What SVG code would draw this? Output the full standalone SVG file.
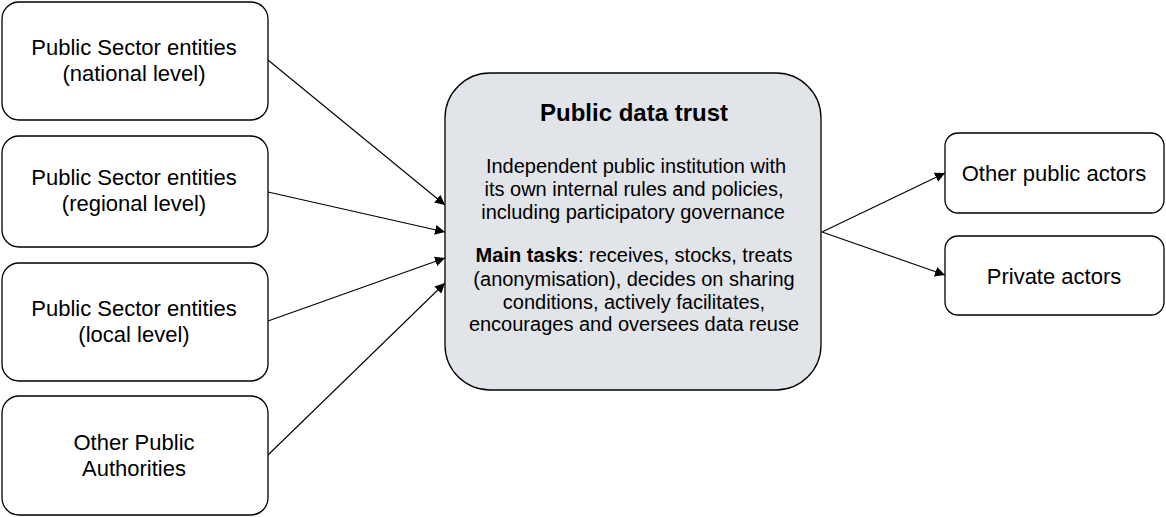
<svg xmlns="http://www.w3.org/2000/svg" width="1166" height="517" viewBox="0 0 1166 517">
<style>
.box{fill:#fff;stroke:#000;stroke-width:1.3}
.center{fill:#e1e4e8;stroke:#000;stroke-width:1.3}
.t{font-family:"Liberation Sans",Arial,sans-serif;font-size:22px;fill:#000;text-anchor:middle}
.b{font-family:"Liberation Sans",Arial,sans-serif;font-size:20px;fill:#000;text-anchor:middle}
.h{font-family:"Liberation Sans",Arial,sans-serif;font-size:24px;font-weight:bold;fill:#000;text-anchor:middle}
.c{fill:none;stroke:#000;stroke-width:1.1}
</style>
<defs>
<marker id="ah" viewBox="0 0 10 10" refX="10" refY="5" markerWidth="10" markerHeight="10" markerUnits="userSpaceOnUse" orient="auto">
<path d="M0,0 L10,5 L0,10 z" fill="#000"/>
</marker>
</defs>
<g id="connectors">
<line class="c" x1="268" y1="60" x2="445" y2="205" marker-end="url(#ah)"/>
<line class="c" x1="268" y1="192" x2="445" y2="232" marker-end="url(#ah)"/>
<line class="c" x1="268" y1="321" x2="445" y2="258" marker-end="url(#ah)"/>
<line class="c" x1="268" y1="455" x2="445" y2="283" marker-end="url(#ah)"/>
<line class="c" x1="822" y1="232" x2="945" y2="173" marker-end="url(#ah)"/>
<line class="c" x1="822" y1="232" x2="945" y2="275" marker-end="url(#ah)"/>
</g>
<g id="node-national">
<rect class="box" x="2" y="2" width="266" height="118" rx="17"/>
<text class="t" x="134" y="55">Public Sector entities</text>
<text class="t" x="134" y="81">(national level)</text>
</g>
<g id="node-regional">
<rect class="box" x="2" y="136" width="266" height="111" rx="17"/>
<text class="t" x="134" y="185">Public Sector entities</text>
<text class="t" x="134" y="211">(regional level)</text>
</g>
<g id="node-local">
<rect class="box" x="2" y="263" width="266" height="118" rx="17"/>
<text class="t" x="134" y="316">Public Sector entities</text>
<text class="t" x="134" y="342">(local level)</text>
</g>
<g id="node-other-authorities">
<rect class="box" x="2" y="396" width="266" height="119" rx="17"/>
<text class="t" x="134" y="450">Other Public</text>
<text class="t" x="134" y="476">Authorities</text>
</g>
<g id="node-trust">
<rect class="center" x="445" y="73" width="376" height="317" rx="45"/>
<text class="h" x="634" y="121">Public data trust</text>
<text class="b" x="636" y="173">Independent public institution with</text>
<text class="b" x="634" y="196">its own internal rules and policies,</text>
<text class="b" x="633" y="219">including participatory governance</text>
<text class="b" x="634" y="262"><tspan font-weight="bold">Main tasks</tspan>: receives, stocks, treats</text>
<text class="b" x="634" y="286">(anonymisation), decides on sharing</text>
<text class="b" x="634" y="309">conditions, actively facilitates,</text>
<text class="b" x="634" y="331">encourages and oversees data reuse</text>
</g>
<g id="node-other-public">
<rect class="box" x="945" y="133" width="219" height="80" rx="13"/>
<text class="t" x="1054" y="181">Other public actors</text>
</g>
<g id="node-private">
<rect class="box" x="945" y="236" width="219" height="79" rx="13"/>
<text class="t" x="1054" y="284">Private actors</text>
</g>
</svg>
